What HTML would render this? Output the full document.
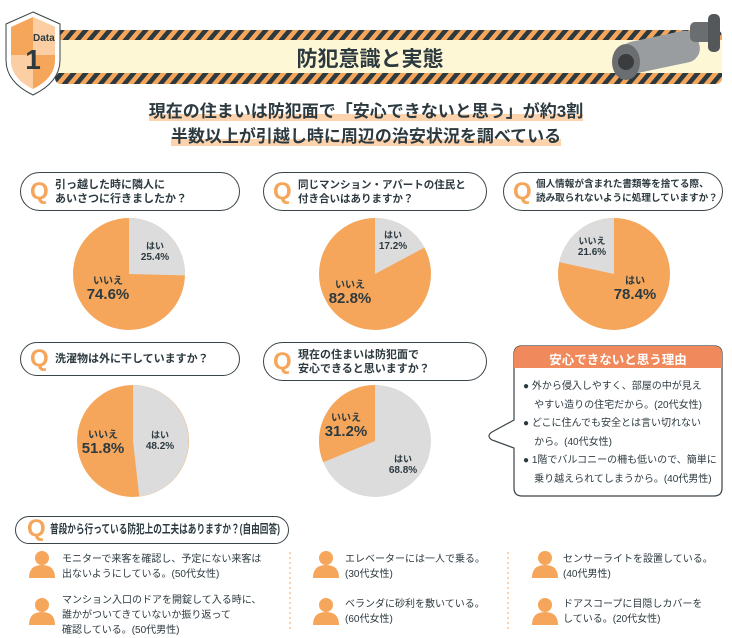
<!DOCTYPE html>
<html><head><meta charset="utf-8"><style>
body{margin:0;width:732px;height:638px;background:#fff;overflow:hidden;font-family:"Liberation Sans","Noto Sans CJK JP",sans-serif;color:#2c3a40;position:relative}
.a{position:absolute}
.q{position:absolute;border:1.5px solid #3a4449;border-radius:20px;background:#fff;font-weight:bold;font-size:11px;line-height:14px;overflow:hidden}
.q b{position:absolute;color:#f5a65b;font-size:24px;left:9px;top:50%;transform:translateY(-50%);font-family:"Liberation Sans",sans-serif}
.q span{position:absolute;left:34px;top:50%;transform:translateY(-50%);white-space:nowrap}
.lb{position:absolute;text-align:center;font-weight:bold;color:#2c3a40;line-height:1.1}
.it{position:absolute;font-size:10px;line-height:15px;color:#2c3a40;white-space:nowrap}
.hl{background:linear-gradient(transparent 62%,#fcd3ad 62%)}
</style></head><body>
<svg class="a" style="left:0;top:0" width="732" height="638">
<defs><pattern id="st" width="12" height="10" patternUnits="userSpaceOnUse" patternTransform="skewX(-40)"><rect width="12" height="10" fill="#f5a65b"/><rect width="6" height="10" fill="#2c3a40"/></pattern></defs>
<rect x="55" y="30" width="667" height="54" rx="6" fill="url(#st)"/>
<rect x="55" y="40" width="667" height="33" fill="#fdf7d6"/>
<path d="M33,12 L60,24 L60,60 Q60,82 33,95 Q6,82 6,60 L6,24 Z" fill="#fff" stroke="#3a4449" stroke-width="1"/>
<path d="M33,17 L55,27 L55,60 Q55,78 33,89 Q11,78 11,60 L11,27 Z" fill="#f5a65b"/>
<path d="M33,17 L55,27 L55,55 L33,55 Z M11,55 L33,55 L33,89 Q11,78 11,60 Z" fill="#fbcfa3"/>
<g><rect x="620" y="36" width="80" height="32" rx="14" transform="rotate(-12 660 52)" fill="#9a9da0"/><ellipse cx="626" cy="62" rx="14" ry="18" fill="#6b6e71"/><circle cx="626" cy="62" r="8" fill="#3a3c3e"/><rect x="690" y="22" width="26" height="20" rx="5" fill="#6b6e71"/><rect x="708" y="14" width="12" height="38" rx="5" fill="#55585a"/></g>
<circle cx="129" cy="274" r="56" fill="#f5a65b"/><path d="M129,274 L129,218 A56,56 0 0 1 185,275.4 Z" fill="#dcdcdc"/>
<circle cx="375" cy="274" r="56" fill="#f5a65b"/><path d="M375,274 L375,218 A56,56 0 0 1 424.4,247.6 Z" fill="#dcdcdc"/>
<circle cx="614" cy="274" r="56" fill="#f5a65b"/><path d="M614,274 L559.3,262.1 A56,56 0 0 1 614,218 Z" fill="#dcdcdc"/>
<circle cx="133" cy="441" r="56" fill="#f5a65b"/><path d="M133,441 L133,385 A56,56 0 0 1 139.3,496.6 Z" fill="#dcdcdc"/>
<circle cx="375" cy="441" r="56" fill="#dcdcdc"/><path d="M375,441 L323.2,462.3 A56,56 0 0 1 375,385 Z" fill="#f5a65b"/>
<path d="M520,346 H714 Q722,346 722,354 V488 Q722,496 714,496 H522 Q514,496 514,488 V448 L492,440 Q486,436 492,432 L514,420 V354 Q514,346 522,346 Z" fill="#fff" stroke="#3a4449" stroke-width="1.2"/>
<path d="M522,346 H714 Q722,346 722,354 V368 H514 V354 Q514,346 522,346 Z" fill="#f08a5d"/>
<line x1="290" y1="552" x2="290" y2="630" stroke="#f5a65b" stroke-dasharray="2,3"/>
<line x1="508" y1="552" x2="508" y2="630" stroke="#f5a65b" stroke-dasharray="2,3"/>
<g fill="#f5a65b">
<g transform="translate(42,558)"><circle cx="0" cy="0" r="7"/><path d="M-13,20 Q-13,7 0,7 Q13,7 13,20 Z"/></g>
<g transform="translate(42,605)"><circle cx="0" cy="0" r="7"/><path d="M-13,20 Q-13,7 0,7 Q13,7 13,20 Z"/></g>
<g transform="translate(326,558)"><circle cx="0" cy="0" r="7"/><path d="M-13,20 Q-13,7 0,7 Q13,7 13,20 Z"/></g>
<g transform="translate(326,605)"><circle cx="0" cy="0" r="7"/><path d="M-13,20 Q-13,7 0,7 Q13,7 13,20 Z"/></g>
<g transform="translate(545,558)"><circle cx="0" cy="0" r="7"/><path d="M-13,20 Q-13,7 0,7 Q13,7 13,20 Z"/></g>
<g transform="translate(545,605)"><circle cx="0" cy="0" r="7"/><path d="M-13,20 Q-13,7 0,7 Q13,7 13,20 Z"/></g>
</g>
</svg>
<div class="a" style="left:33px;top:33px;font-size:10px;font-weight:bold">Data</div>
<div class="a" style="left:22px;top:44px;font-size:28px;font-weight:bold;width:22px;text-align:center">1</div>
<div class="a" style="left:200px;top:43px;width:340px;text-align:center;font-size:21px;font-weight:bold">防犯意識と実態</div>
<div class="a" style="left:0;top:99px;width:732px;text-align:center;font-size:17px;font-weight:bold;line-height:25px"><span class="hl">現在の住まいは防犯面で「安心できないと思う」が約3割</span><br><span class="hl">半数以上が引越し時に周辺の治安状況を調べている</span></div>
<div class="q" style="left:20px;top:172px;width:218px;height:37px"><b>Q</b><span>引っ越した時に隣人に<br>あいさつに行きましたか？</span></div>
<div class="q" style="left:263px;top:172px;width:222px;height:37px"><b>Q</b><span style="font-size:10.5px">同じマンション・アパートの住民と<br>付き合いはありますか？</span></div>
<div class="q" style="left:503px;top:172px;width:218px;height:37px"><b>Q</b><span style="font-size:9.6px;left:32px">個人情報が含まれた書類等を捨てる際、<br>読み取られないように処理していますか？</span></div>
<div class="q" style="left:20px;top:342px;width:218px;height:32px"><b>Q</b><span>洗濯物は外に干していますか？</span></div>
<div class="q" style="left:263px;top:342px;width:222px;height:37px"><b>Q</b><span>現在の住まいは防犯面で<br>安心できると思いますか？</span></div>
<div class="q" style="left:15px;top:516px;width:272px;height:26px"></div>
<div class="a" style="left:27px;top:515px;color:#f5a65b;font-size:24px;font-weight:bold;line-height:28px">Q</div>
<div class="a" style="left:50px;top:522px;font-size:12px;font-weight:bold;white-space:nowrap;transform:scaleX(0.72);transform-origin:left top;line-height:14px">普段から行っている防犯上の工夫はありますか？(自由回答)</div>
<div class="lb" style="left:130px;top:242px;width:50px;font-size:9px">はい<br><span style="font-size:10px">25.4%</span></div>
<div class="lb" style="left:78px;top:276px;width:60px;font-size:10px">いいえ<br><span style="font-size:15px">74.6%</span></div>
<div class="lb" style="left:368px;top:231px;width:50px;font-size:9px">はい<br><span style="font-size:10px">17.2%</span></div>
<div class="lb" style="left:320px;top:280px;width:60px;font-size:10px">いいえ<br><span style="font-size:15px">82.8%</span></div>
<div class="lb" style="left:567px;top:237px;width:50px;font-size:9px">いいえ<br><span style="font-size:10px">21.6%</span></div>
<div class="lb" style="left:605px;top:276px;width:60px;font-size:10px">はい<br><span style="font-size:15px">78.4%</span></div>
<div class="lb" style="left:135px;top:431px;width:50px;font-size:9px">はい<br><span style="font-size:10px">48.2%</span></div>
<div class="lb" style="left:73px;top:430px;width:60px;font-size:10px">いいえ<br><span style="font-size:15px">51.8%</span></div>
<div class="lb" style="left:316px;top:413px;width:60px;font-size:10px">いいえ<br><span style="font-size:15px">31.2%</span></div>
<div class="lb" style="left:378px;top:455px;width:50px;font-size:9px">はい<br><span style="font-size:10px">68.8%</span></div>
<div class="a" style="left:514px;top:349px;width:208px;text-align:center;color:#fff;font-weight:bold;font-size:12.5px">安心できないと思う理由</div>
<div class="a" style="left:523px;top:378px;font-size:10px;line-height:18.5px;white-space:nowrap">● 外から侵入しやすく、部屋の中が見え<br>&nbsp;&nbsp;&nbsp;&nbsp;やすい造りの住宅だから。(20代女性)<br>● どこに住んでも安全とは言い切れない<br>&nbsp;&nbsp;&nbsp;&nbsp;から。(40代女性)<br>● 1階でバルコニーの柵も低いので、簡単に<br>&nbsp;&nbsp;&nbsp;&nbsp;乗り越えられてしまうから。(40代男性)</div>
<div class="it" style="left:62px;top:552px">モニターで来客を確認し、予定にない来客は<br>出ないようにしている。(50代女性)</div>
<div class="it" style="left:62px;top:593px">マンション入口のドアを開錠して入る時に、<br>誰かがついてきていないか振り返って<br>確認している。(50代男性)</div>
<div class="it" style="left:345px;top:552px">エレベーターには一人で乗る。<br>(30代女性)</div>
<div class="it" style="left:345px;top:597px">ベランダに砂利を敷いている。<br>(60代女性)</div>
<div class="it" style="left:563px;top:552px">センサーライトを設置している。<br>(40代男性)</div>
<div class="it" style="left:563px;top:597px">ドアスコープに目隠しカバーを<br>している。(20代女性)</div>
</body></html>
